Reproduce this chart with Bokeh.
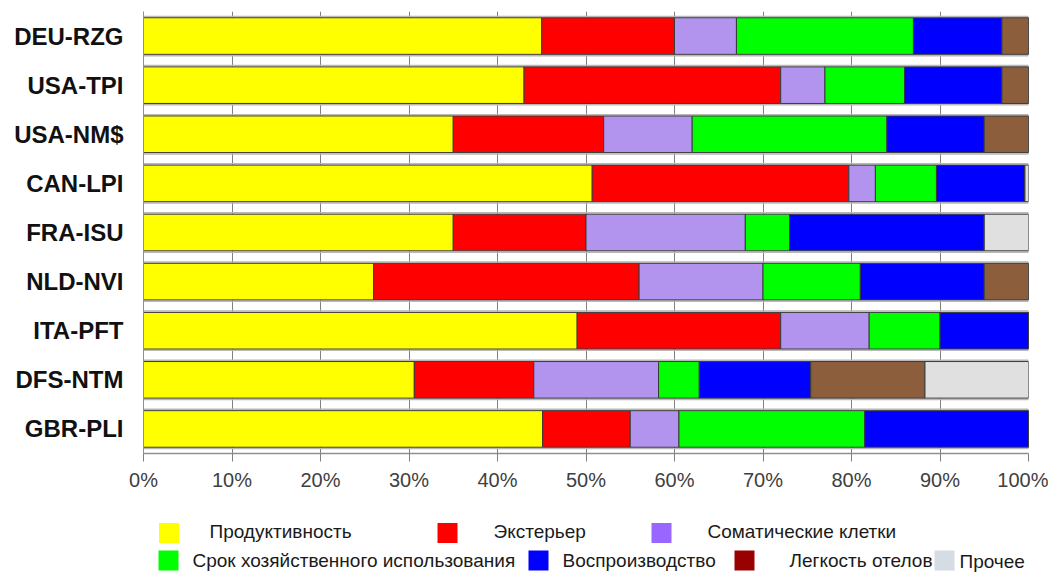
from bokeh.plotting import figure
from bokeh.models import (ColumnDataSource, FactorRange, Range1d, PrintfTickFormatter,
                          FixedTicker, Label)
from bokeh.layouts import column
from bokeh.embed import file_html
from bokeh.resources import INLINE

# ---- data (top to bottom) ----
categories = ["DEU-RZG", "USA-TPI", "USA-NM$", "CAN-LPI", "FRA-ISU",
              "NLD-NVI", "ITA-PFT", "DFS-NTM", "GBR-PLI"]
productivity = [45.0, 43.0, 35.0, 50.7, 35.0, 26.0, 49.0, 30.6, 45.1]
exterior     = [15.0, 29.0, 17.0, 29.0, 15.0, 30.0, 23.0, 13.5, 9.9]
somatic      = [7.0, 5.0, 10.0, 3.0, 18.0, 14.0, 10.0, 14.1, 5.5]
longevity    = [20.0, 9.0, 22.0, 6.9, 5.0, 11.0, 8.0, 4.6, 21.0]
reproduction = [10.0, 11.0, 11.0, 10.0, 22.0, 14.0, 10.0, 12.6, 18.5]
calving      = [3.0, 3.0, 5.0, 0.0, 0.0, 5.0, 0.0, 12.9, 0.0]
other        = [0.0, 0.0, 0.0, 0.4, 5.0, 0.0, 0.0, 11.7, 0.0]

series_names = ["Продуктивность", "Экстерьер", "Соматические клетки",
                "Срок хозяйственного использования", "Воспроизводство",
                "Легкость отелов", "Прочее"]
bar_colors = ["#FFFF00", "#FF0000", "#B293EE", "#00FF00", "#0000FF", "#8C5E3C", "#E0E0E0"]
legend_colors = ["#FFFF00", "#FF0000", "#9966FF", "#00FF00", "#0000FF", "#990000", "#D5DCE4"]
x_ticks = [0, 10, 20, 30, 40, 50, 60, 70, 80, 90, 100]

keys = ["s0", "s1", "s2", "s3", "s4", "s5", "s6"]
series = [productivity, exterior, somatic, longevity, reproduction, calving, other]
data = {"cat": categories}
for k, s in zip(keys, series):
    data[k] = s
data["total"] = [sum(v) for v in zip(*series)]
source = ColumnDataSource(data)

W = 1048
BL, BR = 143, 20
MAIN_H = 503
LH = 71

p = figure(width=W, height=MAIN_H,
           y_range=FactorRange(factors=list(reversed(categories))),
           x_range=Range1d(0, 100),
           output_backend="svg", toolbar_location=None,
           min_border_left=BL, min_border_right=BR,
           min_border_top=11, min_border_bottom=50)

# shadow-like frame around each bar
p.hbar(y="cat", left=0, right="total", height=0.8, source=source,
       fill_color=None, line_color="#b8b8b8", line_width=1.5)

p.hbar_stack(keys, y="cat", height=0.745, color=bar_colors, source=source,
             line_color="#3a3a3a", line_width=1)

p.outline_line_color = None
p.ygrid.grid_line_color = None
p.xgrid.grid_line_color = "#808080"
p.xgrid.grid_line_width = 1
p.xaxis.ticker = FixedTicker(ticks=x_ticks)
p.xaxis.formatter = PrintfTickFormatter(format="%d%%")
p.xaxis.axis_line_color = "#909090"
p.xaxis.axis_line_width = 1.5
p.xaxis.major_tick_line_color = "#808080"
p.xaxis.major_tick_in = 0
p.xaxis.major_tick_out = 8
p.xaxis.minor_tick_line_color = None
p.xaxis.major_label_standoff = 7
p.xaxis.major_label_text_font = "Liberation Sans"
p.xaxis.major_label_text_font_size = "20px"
p.xaxis.major_label_text_color = "#404040"

p.yaxis.axis_line_color = "#909090"
p.yaxis.major_tick_line_color = None
p.yaxis.major_tick_in = 0
p.yaxis.major_tick_out = 0
p.yaxis.major_label_standoff = 20
p.yaxis.major_label_text_font = "Liberation Sans"
p.yaxis.major_label_text_font_style = "bold"
p.yaxis.major_label_text_font_size = "24px"
p.yaxis.major_label_text_color = "#111111"

# ---- legend (separate strip below, x in page pixels) ----
lg = figure(width=W, height=LH, x_range=Range1d(BL, W - BR), y_range=Range1d(LH, 0),
            output_backend="svg", toolbar_location=None,
            min_border_left=BL, min_border_right=BR, min_border_top=0, min_border_bottom=0,
            x_axis_type=None, y_axis_type=None)
lg.outline_line_color = None
lg.grid.visible = False

marker_x = [168.5, 447, 661, 168, 538, 744, 944]
marker_y = [29.5, 29.5, 29.5, 57, 57, 57, 57]
text_x = [209, 493, 707, 192, 562, 789, 959]
text_y = [28, 28, 28, 57, 57, 57, 58]

lg.rect(x=marker_x, y=marker_y, width=20, height=20, fill_color=legend_colors,
        line_color=None)
for tx, ty, name in zip(text_x, text_y, series_names):
    lg.add_layout(Label(x=tx, y=ty, text=name, x_units="data", y_units="data",
                        text_baseline="middle", text_align="left",
                        text_font="Liberation Sans", text_font_size="19px",
                        text_color="#1a1a1a"))

layout = column(p, lg, spacing=0)
open("out.html", "w").write(file_html(layout, INLINE))
